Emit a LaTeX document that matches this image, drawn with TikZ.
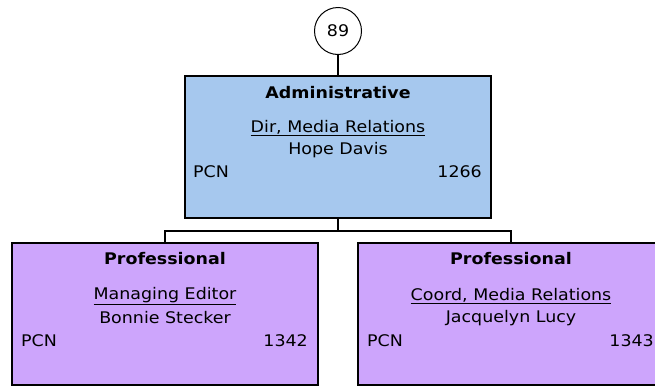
\documentclass[tikz,border=0pt]{standalone}
\usepackage{fontspec}
\setmainfont{DejaVu Sans}[FakeStretch=1.09]
\definecolor{adminblue}{RGB}{166,200,238}
\definecolor{profpurple}{RGB}{205,165,252}
\begin{document}
\begin{tikzpicture}[x=1pt,y=-1pt,
  box/.style={draw=black,line width=1.8pt,rectangle,minimum width=306pt,minimum height=142pt,inner sep=0pt},
  txt/.style={font=\fontsize{16}{18}\selectfont,inner sep=0pt,anchor=center},
  bold/.style={txt,font=\fontsize{16}{18}\selectfont\bfseries},
  conn/.style={draw=black,line width=1.8pt}]
\clip (0,0) rectangle (655,386);
\fill[white] (0,0) rectangle (655,386);
% circle
\node[draw=black,line width=1pt,circle,minimum size=47pt,inner sep=0pt,font=\fontsize{16}{18}\selectfont] (c) at (338,31) {89};
% boxes
\node[box,fill=adminblue] (top) at (338,147) {};
\node[box,fill=profpurple] (l) at (165,314) {};
\node[box,fill=profpurple] (r) at (511,314) {};
% top text
\node[bold] (ta) at (338,93) {Administrative};
\node[txt] (tt) at (338,128) {\underline{Dir, Media Relations}};
\node[txt] (tn) at (338,150) {Hope Davis};
\node[txt,anchor=west] (tp) at (193,172) {PCN};
\node[txt,anchor=east] (tnum) at (482,172) {1266};
% left text
\node[bold] (la) at (165,259) {Professional};
\node[txt] (lt) at (165,296) {\underline{Managing Editor}};
\node[txt] (ln) at (165,318) {Bonnie Stecker};
\node[txt,anchor=west] (lp) at (21,341) {PCN};
\node[txt,anchor=east] (lnum) at (308,341) {1342};
% right text
\node[bold] (ra) at (511,259) {Professional};
\node[txt] (rt) at (511,296) {\underline{Coord, Media Relations}};
\node[txt] (rn) at (511,318) {Jacquelyn Lucy};
\node[txt,anchor=west] (rp) at (367,341) {PCN};
\node[txt,anchor=east] (rnum) at (654,341) {1343};
% connectors
\coordinate (j) at (338,231);
\draw[conn] (c.south) -- (top.north);
\draw[conn] (top.south) -- (j);
\draw[conn] (j) -| (l.north);
\draw[conn] (j) -| (r.north);
\end{tikzpicture}
\end{document}
